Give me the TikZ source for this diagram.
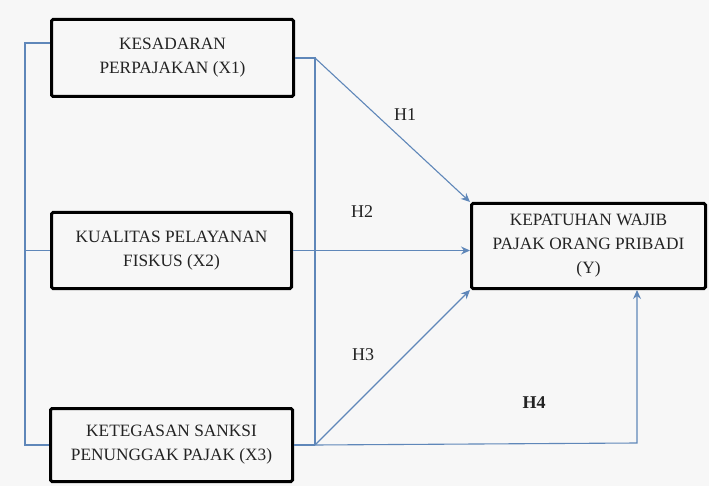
\documentclass[tikz,border=0pt]{standalone}
\usepackage{fontspec}
\setmainfont{Liberation Serif}
\usetikzlibrary{arrows.meta}
\definecolor{bg}{RGB}{247,247,247}
\definecolor{conn}{RGB}{95,135,185}
\definecolor{txt}{RGB}{35,35,35}
\begin{document}
\begin{tikzpicture}[x=1pt,y=-1pt,
  varbox/.style={draw=black, line width=3pt, rounded corners=1.5pt, align=center,
    inner sep=0pt, text=txt, font=\fontsize{17.3}{24}\selectfont},
  link/.style={draw=conn, line width=1.1pt},
  arr/.style={link, -{Stealth[length=9pt,width=8pt]}},
  hlab/.style={text=txt, font=\fontsize{18}{20}\selectfont}]
\fill[bg] (0,0) rectangle (709,486);
\useasboundingbox (0,0) rectangle (709,486);
\node[varbox, minimum width=242pt, minimum height=77pt] (X1) at (172.5,58) {KESADARAN\\PERPAJAKAN (X1)};
\node[varbox, minimum width=240pt, minimum height=76pt] (X2) at (171.5,250.5) {KUALITAS PELAYANAN\\FISKUS (X2)};
\node[varbox, minimum width=242pt, minimum height=73pt] (X3) at (171.5,445) {KETEGASAN SANKSI\\PENUNGGAK PAJAK (X3)};
\node[varbox, minimum width=234pt, minimum height=85pt] (Y) at (588.5,246) {KEPATUHAN WAJIB\\PAJAK ORANG PRIBADI\\(Y)};
\coordinate (a1) at (25,43);
\coordinate (r1) at (315,58);
\coordinate (r3) at (315,445);
\coordinate (h4) at (637,443);
% left bracket
\draw[link] (X1.west |- a1) -- (a1) -- (a1 |- X3.west) -- (X3.west);
\draw[link] (a1 |- X2.west) -- (X2.west);
% right vertical
\draw[link] (X1.east) -- (r1) -- (r3);
\draw[link] (X3.east) -- (r3);
% hypotheses
\draw[arr] (r1) -- (Y.north west);
\draw[arr] (X2.east) -- (X2.east -| Y.west);
\draw[arr] (r3) -- (Y.south west);
\draw[arr] (r3) -- (h4) -- (h4 |- Y.south);
\node[hlab] (H1) at (405,115) {H1};
\node[hlab] (H2) at (362,212) {H2};
\node[hlab] (H3) at (363,355) {H3};
\node[hlab, font=\fontsize{18}{20}\selectfont\bfseries] (H4) at (534,403) {H4};
\end{tikzpicture}
\end{document}
